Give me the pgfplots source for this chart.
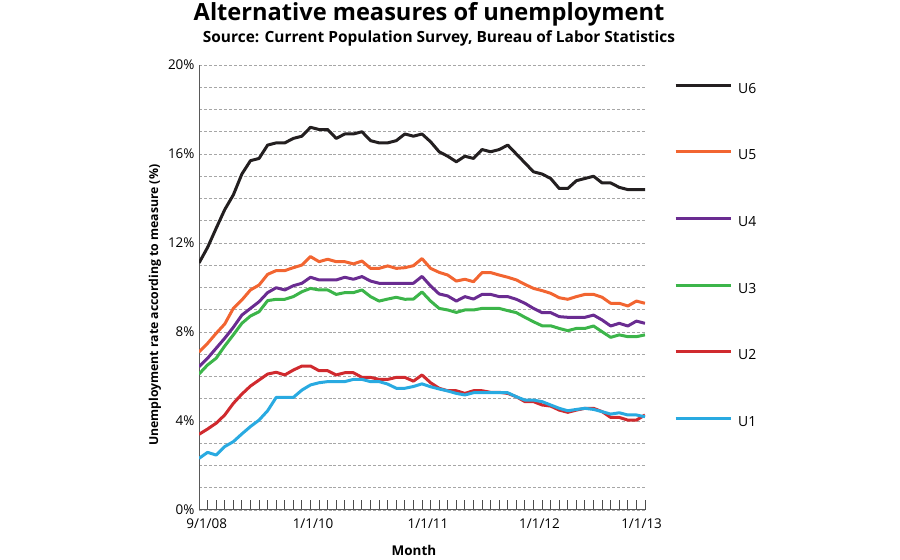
\documentclass[border=0pt]{standalone}
\usepackage{fontspec}
\setmainfont{Open Sans}
\usepackage{pgfplots}
\usepackage{pgfplotstable}
\pgfplotsset{compat=1.18}
\definecolor{cU6}{HTML}{231F20}
\definecolor{cU5}{HTML}{F26531}
\definecolor{cU4}{HTML}{6A2C91}
\definecolor{cU3}{HTML}{3CB54A}
\definecolor{cU2}{HTML}{D02A2E}
\definecolor{cU1}{HTML}{29AAE1}
\pgfplotstableread{
i U6 U5 U4 U3 U2 U1
0 11.1 7.1 6.44 6.11 3.40 2.32
1 11.8 7.49 6.82 6.52 3.64 2.59
2 12.66 7.94 7.27 6.82 3.90 2.47
3 13.5 8.36 7.72 7.37 4.27 2.85
4 14.16 9.06 8.21 7.87 4.79 3.07
5 15.1 9.44 8.76 8.39 5.21 3.42
6 15.7 9.89 9.06 8.72 5.57 3.75
7 15.8 10.11 9.36 8.91 5.84 4.04
8 16.4 10.59 9.77 9.41 6.11 4.46
9 16.5 10.76 9.99 9.47 6.19 5.06
10 16.5 10.76 9.89 9.47 6.07 5.06
11 16.7 10.89 10.08 9.59 6.29 5.06
12 16.8 11.01 10.19 9.81 6.47 5.39
13 17.2 11.39 10.46 9.96 6.47 5.62
14 17.1 11.16 10.34 9.89 6.26 5.72
15 17.1 11.27 10.34 9.89 6.26 5.77
16 16.7 11.16 10.34 9.69 6.07 5.77
17 16.9 11.16 10.46 9.77 6.17 5.77
18 16.9 11.06 10.37 9.77 6.17 5.87
19 17.0 11.19 10.49 9.89 5.96 5.87
20 16.6 10.86 10.29 9.59 5.96 5.77
21 16.5 10.86 10.19 9.39 5.87 5.77
22 16.5 10.97 10.19 9.48 5.87 5.66
23 16.6 10.86 10.19 9.56 5.96 5.47
24 16.9 10.89 10.19 9.47 5.96 5.47
25 16.8 10.98 10.19 9.48 5.79 5.55
26 16.9 11.3 10.5 9.8 6.07 5.67
27 16.55 10.86 10.07 9.39 5.72 5.54
28 16.1 10.68 9.71 9.06 5.47 5.44
29 15.9 10.56 9.62 8.99 5.36 5.35
30 15.65 10.29 9.39 8.88 5.36 5.24
31 15.9 10.37 9.59 8.99 5.24 5.17
32 15.8 10.26 9.48 8.99 5.36 5.27
33 16.2 10.67 9.69 9.06 5.36 5.27
34 16.1 10.67 9.69 9.06 5.29 5.27
35 16.2 10.56 9.59 9.06 5.29 5.27
36 16.4 10.46 9.59 8.96 5.24 5.27
37 16.0 10.34 9.47 8.87 5.09 5.09
38 15.6 10.14 9.29 8.66 4.87 4.94
39 15.2 9.96 9.06 8.46 4.87 4.94
40 15.1 9.86 8.87 8.28 4.72 4.87
41 14.9 9.74 8.87 8.28 4.67 4.72
42 14.45 9.54 8.69 8.16 4.49 4.57
43 14.45 9.47 8.66 8.06 4.39 4.46
44 14.8 9.59 8.66 8.16 4.49 4.52
45 14.9 9.69 8.66 8.16 4.57 4.57
46 15.0 9.69 8.76 8.27 4.57 4.52
47 14.7 9.56 8.54 8.01 4.42 4.42
48 14.7 9.29 8.27 7.76 4.16 4.31
49 14.5 9.29 8.39 7.87 4.16 4.37
50 14.4 9.17 8.27 7.79 4.04 4.27
51 14.4 9.39 8.49 7.79 4.04 4.27
52 14.4 9.29 8.39 7.87 4.27 4.19
}\datatable
\begin{document}
\begin{tikzpicture}
\path[use as bounding box] (0,0) rectangle (900bp,560bp);
\node[font=\bfseries\fontsize{23.7}{28}\selectfont] at (429bp,546bp) {Alternative measures of unemployment};
\node[font=\bfseries\fontsize{15.5}{18}\selectfont] at (439bp,522bp) {Source: Current Population Survey, Bureau of Labor Statistics};
\begin{axis}[
  at={(199bp,50bp)}, anchor=south west, scale only axis,
  width=446bp, height=445bp,
  xmin=0, xmax=52, ymin=0, ymax=20,
  axis x line*=bottom, axis y line*=left,
  axis line style={draw=black!65, line width=1bp, -},
  xtick={0.9,13.3,26.7,39.7,51.6},
  xticklabels={9/1/08,1/1/10,1/1/11,1/1/12,1/1/13},
  minor xtick={0,1,...,52},
  ytick={0,4,...,20},
  yticklabels={0\%,4\%,8\%,12\%,16\%,20\%},
  minor ytick={1,2,3,5,6,7,9,10,11,13,14,15,17,18,19},
  ymajorgrids, yminorgrids,
  major grid style={black!35, densely dashed, line width=0.8bp},
  minor grid style={black!35, densely dashed, line width=0.8bp},
  major tick length=0pt, minor tick length=10bp, tick align=inside,
  tick style={black!70, line width=1bp},
  minor y tick style={draw=none},
  ticklabel style={font=\fontsize{13.5}{16}\selectfont},
  xticklabel style={yshift=-5bp},
  yticklabel style={xshift=-1bp},
  ylabel={Unemployment rate according to measure (\%)},
  ylabel style={at={(axis description cs:-0.0987,0.46)}, anchor=center, font=\bfseries\fontsize{12.3}{15}\selectfont},
  xlabel={Month},
  xlabel style={at={(axis description cs:0.482,-0.09)}, anchor=center, font=\bfseries\fontsize{13.5}{16}\selectfont},
  legend style={at={(axis description cs:1.065,0.962)}, anchor=north west, draw=none, fill=none,
    inner sep=0pt, row sep=51.7bp, font=\fontsize{14}{16}\selectfont,
    nodes={inner sep=1bp, text height=10bp, text depth=3bp},
    /tikz/every odd column/.style={column sep=5bp}},
  legend cell align=left,
  legend image code/.code={\draw[#1] (0bp,4.5bp) -- (55bp,4.5bp);},
  every axis plot/.append style={line width=3bp, line join=round, mark=none},
]
\addplot[cU6] table[x=i,y=U6] {\datatable}; \addlegendentry{U6}
\addplot[cU5] table[x=i,y=U5] {\datatable}; \addlegendentry{U5}
\addplot[cU4] table[x=i,y=U4] {\datatable}; \addlegendentry{U4}
\addplot[cU3] table[x=i,y=U3] {\datatable}; \addlegendentry{U3}
\addplot[cU2] table[x=i,y=U2] {\datatable}; \addlegendentry{U2}
\addplot[cU1] table[x=i,y=U1] {\datatable}; \addlegendentry{U1}
\end{axis}
\end{tikzpicture}
\end{document}
